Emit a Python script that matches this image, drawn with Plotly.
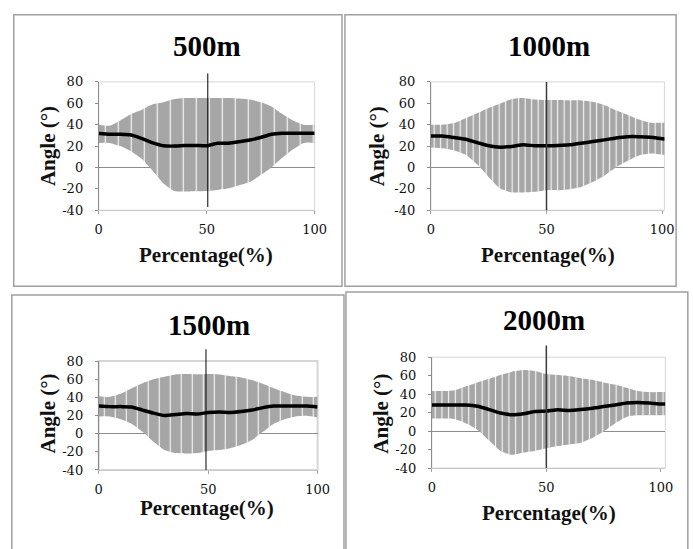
import plotly.graph_objects as go

# ---------------- data ----------------
pct = [0, 5, 10, 15, 20, 25, 30, 35, 40, 45, 50, 55, 60, 65, 70, 75, 80, 85, 90, 95, 100]
pct_long = [0, 5, 10, 15, 20, 25, 30, 35, 40, 45, 50, 55, 60, 65, 70, 75, 80, 85, 90, 95, 100, 102]

titles = ["500m", "1000m", "1500m", "2000m"]
y_ticks = [-40, -20, 0, 20, 40, 60, 80]
y_tick_text = ["-40", "-20", "0", "20", "40", "60", "80"]
x_ticks = [0, 50, 100]
marker_pct = [50.5, 50, 49, 50]

mean_500 = [31.8, 31, 31, 30.3, 27, 23, 20.3, 20, 20.6, 20.6, 20.3, 22.7, 22.7, 24, 25.7, 28, 31, 32, 32, 32, 32]
upper_500 = [40, 39, 44, 50, 54, 59, 61, 64, 65, 65, 65, 65, 65, 64.5, 63.5, 61, 57, 50, 44, 40, 40]
lower_500 = [23, 23, 20, 15, 8, -3, -15, -22, -22.5, -22.3, -22, -21, -19.5, -16.5, -13.5, -7, 0, 9, 17, 23, 23]

mean_1000 = [29.4, 29.4, 28, 26.4, 23.3, 20.3, 19, 19.7, 21.2, 20.3, 20.3, 20.6, 21.2, 22.7, 24.2, 25.8, 27.6, 28.8, 28.8, 28.2, 26.8, 26.4]
upper_1000 = [40, 40, 41.5, 46, 50.6, 55.5, 59.7, 64, 65, 63.6, 63, 63, 62.7, 62.7, 61.5, 58.5, 53.6, 49.4, 44.8, 41.8, 41.8, 41.8]
lower_1000 = [18.8, 18, 16, 12, 3, -9, -19.7, -23.3, -23.3, -22.7, -21.2, -21.2, -20.3, -18.2, -13.6, -7.6, 0, 6, 11.2, 13, 12, 12]

mean_1500 = [30.5, 29.8, 29.8, 29.5, 26, 22.6, 20, 21, 22.3, 21.6, 23.4, 24, 23.4, 24.4, 26, 28.7, 30.5, 30.5, 30.5, 30.5, 29.5]
upper_1500 = [41.3, 40.6, 44, 50, 55.6, 60, 62.8, 65.3, 65.7, 65.3, 65.7, 65.3, 63.5, 62, 59, 55, 50, 45.7, 42, 40.6, 40.6]
lower_1500 = [19, 19, 16, 11, 2, -9, -18, -21.4, -22, -21.4, -19, -18, -16, -12.5, -7, 2, 11, 16, 19, 19.8, 18]

mean_2000 = [28.2, 28.2, 28.2, 28.2, 26.8, 23.3, 19.5, 17.7, 18.8, 21.2, 21.6, 23, 22.3, 23.3, 24.7, 26.5, 28.2, 30.3, 31, 30.3, 29.3, 29.3]
upper_2000 = [43.3, 43.3, 44.3, 48.5, 52.7, 56.6, 60.8, 64.3, 66, 65, 61.8, 60.8, 59.7, 57.3, 55.5, 52.7, 50.3, 46.8, 43.3, 42.2, 42.2, 42.2]
lower_2000 = [13.5, 13.5, 12.8, 8.3, 1.3, -10.3, -21.5, -25.7, -23.2, -21.5, -18.7, -16.2, -14.5, -12.7, -7.5, -0.5, 8.3, 15.3, 17, 17, 17, 17]

# ---------------- layout / style ----------------
W, H = 693, 549
FONT = "Liberation Serif"
TICKFONT = "DejaVu Serif"
BAND = "#A6A6A6"
TXT = "#111111"


def fx(p):
    return p / W


def fy(p):
    return 1 - p / H


panels = [
    dict(x=pct, mean=mean_500, up=upper_500, lo=lower_500, box=(97, 318, 77, 209), xr=[0, 100],
         gap=13, sol=0.09, vcol="black", vw=1, vtop=88, vbot=-37,
         title=(208, 40), ytitle=(45, 143), xtitle=(207, 255), frame=(10, 346, 8, 287), bw=1),
    dict(x=pct_long, mean=mean_1000, up=upper_1000, lo=lower_1000, box=(437, 676, 77, 209), xr=[0, 101],
         gap=6.5, sol=0.18, vcol="#3a3a3a", vw=1.5, vtop=80, vbot=-40,
         title=(558, 40), ytitle=(382, 143), xtitle=(557, 255), frame=(349, 688, 8, 287), bw=1),
    dict(x=pct, mean=mean_1500, up=upper_1500, lo=lower_1500, box=(97, 321, 364, 476), xr=[0, 100],
         gap=11, sol=0.1, vcol="black", vw=1, vtop=93, vbot=-40,
         title=(210, 327), ytitle=(45, 418), xtitle=(208, 515), frame=(8, 348, 296, 560), bw=2),
    dict(x=pct_long, mean=mean_2000, up=upper_2000, lo=lower_2000, box=(438, 677, 360, 474), xr=[0, 102],
         gap=6.7, sol=0.17, vcol="#3a3a3a", vw=1.5, vtop=92.6, vbot=-40,
         title=(553, 322), ytitle=(385, 418), xtitle=(558, 520), frame=(350, 700, 293, 560), bw=1),
]

fig = go.Figure()
shapes = []
annotations = []
layout_axes = {}

for i, p in enumerate(panels, start=1):
    suf = "" if i == 1 else str(i)
    xa, ya = "x" + suf, "y" + suf
    # lower edge of the deviation band
    fig.add_trace(go.Scatter(x=p["x"], y=p["lo"], mode="lines", line=dict(width=0, shape="spline", smoothing=0.6),
                             xaxis=xa, yaxis=ya, showlegend=False, hoverinfo="skip"))
    # upper edge, filled down to lower
    fig.add_trace(go.Scatter(x=p["x"], y=p["up"], mode="lines", line=dict(width=0, shape="spline", smoothing=0.6),
                             fill="tonexty", fillcolor=BAND,
                             fillpattern=dict(shape="|", bgcolor=BAND, fgcolor="white", fgopacity=0.9,
                                              size=p["gap"], solidity=p["sol"], fillmode="replace"),
                             xaxis=xa, yaxis=ya, showlegend=False, hoverinfo="skip"))
    # mean curve
    fig.add_trace(go.Scatter(x=p["x"], y=p["mean"], mode="lines",
                             line=dict(color="black", width=3.5, shape="spline", smoothing=0.5),
                             xaxis=xa, yaxis=ya, showlegend=False))

    x0, x1, y0, y1 = p["box"]
    layout_axes["xaxis" + suf] = dict(domain=[fx(x0), fx(x1)], anchor=ya, range=p["xr"], tickvals=x_ticks,
                                      ticks="outside", ticklen=3, tickcolor="#A0A0A0", showline=True,
                                      linecolor="#C8C8C8", linewidth=1, showgrid=False, zeroline=False,
                                      tickfont=dict(family=TICKFONT, size=13, color=TXT), ticklabelstandoff=4)
    layout_axes["yaxis" + suf] = dict(domain=[fy(y1), fy(y0)], anchor=xa, range=[-40, 80], tickvals=y_ticks,
                                      ticktext=y_tick_text,
                                      ticks="outside", ticklen=3, tickcolor="#8C8C8C", showline=True,
                                      linecolor="#8C8C8C", linewidth=1, showgrid=False, zeroline=True,
                                      zerolinecolor="#8C8C8C", zerolinewidth=1,
                                      tickfont=dict(family=TICKFONT, size=13, color=TXT), ticklabelstandoff=9)

    # light plot-area border
    shapes.append(dict(type="rect", xref=f"{xa} domain", yref=f"{ya} domain", x0=0, x1=1, y0=0, y1=1,
                       line=dict(color="#D6D6D6", width=p["bw"]), layer="below"))
    # vertical marker at mid-cycle
    shapes.append(dict(type="line", xref=xa, yref=f"{ya} domain", x0=marker_pct[i - 1], x1=marker_pct[i - 1],
                       y0=(p["vbot"] + 40) / 120, y1=(p["vtop"] + 40) / 120,
                       line=dict(color=p["vcol"], width=p["vw"]), layer="above"))
    # outer panel frame
    fx0, fx1, fy0, fy1 = p["frame"]
    shapes.append(dict(type="rect", xref="paper", yref="paper", x0=fx(fx0), x1=fx(fx1), y0=fy(fy1), y1=fy(fy0),
                       line=dict(color="#A0A0A0", width=1.5), layer="below"))

    tx, ty = p["title"]
    annotations.append(dict(text=f"<b>{titles[i - 1]}</b>", x=fx(tx), y=fy(ty), xref="paper", yref="paper",
                            showarrow=False, xanchor="center", yanchor="middle",
                            font=dict(family=FONT, size=29, color="black")))
    ax_, ay_ = p["ytitle"]
    annotations.append(dict(text="<b>Angle (°)</b>", x=fx(ax_), y=fy(ay_), xref="paper", yref="paper",
                            showarrow=False, textangle=-90, xanchor="center", yanchor="middle",
                            font=dict(family=FONT, size=21, color=TXT)))
    bx, by = p["xtitle"]
    annotations.append(dict(text="<b>Percentage(%)</b>", x=fx(bx), y=fy(by), xref="paper", yref="paper",
                            showarrow=False, xanchor="center", yanchor="middle",
                            font=dict(family=FONT, size=21, color=TXT)))

fig.update_layout(width=W, height=H, margin=dict(l=0, r=0, t=0, b=0),
                  paper_bgcolor="white", plot_bgcolor="white",
                  shapes=shapes, annotations=annotations, showlegend=False, **layout_axes)

fig.write_html("out.html", config={"displayModeBar": False},
               post_script="document.body.style.margin='0';document.body.style.overflow='hidden';")
